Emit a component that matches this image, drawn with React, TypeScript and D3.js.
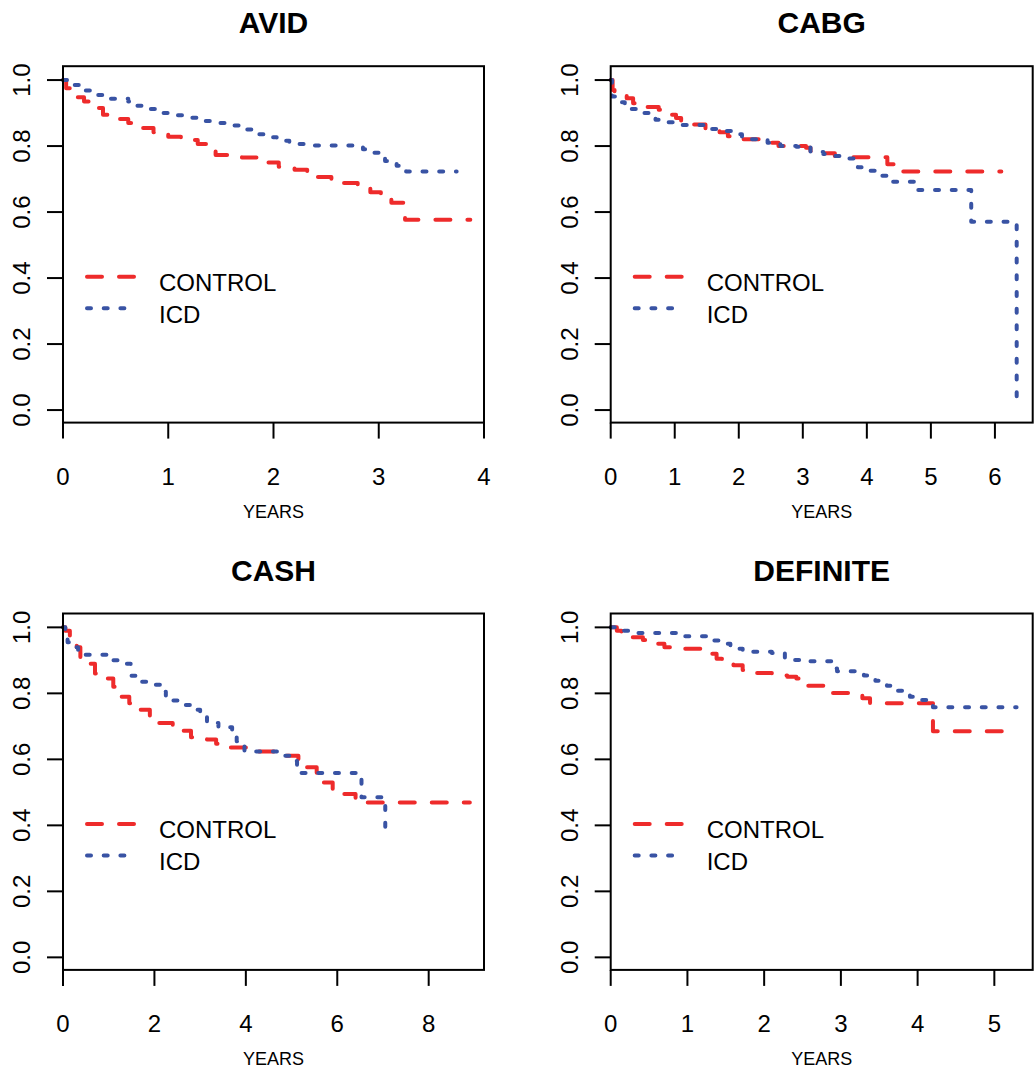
import React from 'react';
import * as d3 from 'd3';

const W = 1034;
const H = 1070;
const RED = '#ee2b2b';
const BLUE = '#3953a4';
const FONT = '"Liberation Sans", Arial, Helvetica, sans-serif';

// Kaplan-Meier steps: time (years) and survival after the step
const avidControlTime = [0, 0.03, 0.09, 0.14, 0.2, 0.28, 0.38, 0.5, 0.62, 0.75, 0.86, 1.0, 1.12, 1.28, 1.38, 1.45, 1.7, 1.93, 2.05, 2.2, 2.32, 2.4, 2.55, 2.65, 2.8, 2.92, 3.02, 3.12, 3.25, 3.87];
const avidControlSurv = [1, 0.975, 0.96, 0.948, 0.935, 0.915, 0.895, 0.882, 0.87, 0.855, 0.842, 0.828, 0.818, 0.806, 0.797, 0.773, 0.765, 0.75, 0.737, 0.728, 0.72, 0.706, 0.695, 0.688, 0.676, 0.66, 0.643, 0.628, 0.577, 0.577];
const avidIcdTime = [0, 0.05, 0.2, 0.3, 0.42, 0.62, 0.68, 0.8, 0.88, 1.0, 1.15, 1.3, 1.45, 1.62, 1.7, 1.8, 1.93, 2.03, 2.15, 2.35, 2.78, 2.85, 2.9, 3.0, 3.06, 3.17, 3.26, 3.74];
const avidIcdSurv = [1, 0.985, 0.968, 0.955, 0.943, 0.935, 0.922, 0.912, 0.9, 0.893, 0.886, 0.876, 0.87, 0.862, 0.85, 0.836, 0.827, 0.816, 0.806, 0.802, 0.797, 0.79, 0.78, 0.77, 0.755, 0.74, 0.723, 0.723];

const cabgControlTime = [0, 0.03, 0.06, 0.25, 0.35, 0.55, 0.75, 0.93, 1.02, 1.1, 1.3, 1.48, 1.7, 1.83, 2.0, 2.5, 2.62, 3.05, 3.12, 3.2, 3.5, 3.7, 4.32, 4.52, 6.1];
const cabgControlSurv = [1, 0.97, 0.955, 0.945, 0.93, 0.918, 0.91, 0.895, 0.885, 0.875, 0.865, 0.852, 0.842, 0.83, 0.821, 0.81, 0.8, 0.795, 0.785, 0.778, 0.77, 0.766, 0.745, 0.723, 0.723];
const cabgIcdTime = [0, 0.02, 0.15, 0.22, 0.3, 0.45, 0.62, 0.7, 0.85, 1.0, 1.45, 1.65, 1.88, 2.05, 2.45, 2.65, 2.9, 3.12, 3.32, 3.5, 3.72, 3.8, 3.86, 4.05, 4.2, 4.35, 4.76, 5.63, 6.34];
const cabgIcdSurv = [1, 0.95, 0.933, 0.925, 0.912, 0.9, 0.888, 0.88, 0.872, 0.864, 0.852, 0.846, 0.836, 0.821, 0.81, 0.8, 0.798, 0.782, 0.776, 0.77, 0.762, 0.75, 0.736, 0.725, 0.71, 0.692, 0.667, 0.571, 0.035];

const cashControlTime = [0, 0.05, 0.15, 0.3, 0.38, 0.55, 0.7, 0.95, 1.1, 1.25, 1.45, 1.7, 1.9, 2.05, 2.4, 2.6, 2.8, 3.15, 3.35, 3.6, 4.2, 4.85, 5.15, 5.28, 5.55, 5.65, 5.9, 6.1, 6.4, 6.6, 8.9];
const cashControlSurv = [1, 0.99, 0.975, 0.94, 0.91, 0.89, 0.86, 0.845, 0.82, 0.79, 0.77, 0.75, 0.732, 0.71, 0.703, 0.687, 0.667, 0.66, 0.647, 0.636, 0.624, 0.611, 0.596, 0.576, 0.556, 0.53, 0.51, 0.495, 0.48, 0.469, 0.469];
const cashIcdTime = [0, 0.05, 0.1, 0.22, 0.33, 1.05, 1.3, 1.48, 1.5, 1.65, 1.85, 2.15, 2.25, 2.55, 2.8, 3.0, 3.15, 3.4, 3.7, 3.8, 3.9, 3.97, 4.85, 5.05, 5.12, 5.2, 6.53, 7.05, 7.2];
const cashIcdSurv = [1, 0.97, 0.955, 0.94, 0.917, 0.9, 0.89, 0.87, 0.853, 0.835, 0.826, 0.805, 0.778, 0.765, 0.75, 0.735, 0.71, 0.697, 0.68, 0.655, 0.64, 0.624, 0.611, 0.595, 0.58, 0.559, 0.485, 0.389, 0.389];

const definiteControlTime = [0, 0.08, 0.14, 0.27, 0.42, 0.55, 0.7, 0.85, 1.28, 1.38, 1.45, 1.6, 1.72, 1.9, 2.1, 2.3, 2.42, 2.5, 2.85, 3.28, 3.38, 4.2, 5.1];
const definiteControlSurv = [1, 0.99, 0.98, 0.97, 0.962, 0.95, 0.94, 0.935, 0.92, 0.905, 0.894, 0.885, 0.871, 0.862, 0.854, 0.85, 0.845, 0.823, 0.801, 0.785, 0.77, 0.685, 0.685];
const definiteIcdTime = [0, 0.12, 0.36, 0.92, 1.25, 1.42, 1.56, 1.72, 2.1, 2.27, 2.6, 2.89, 2.95, 3.3, 3.37, 3.45, 3.52, 3.6, 3.68, 3.73, 3.8, 3.9, 4.0, 4.15, 4.2, 5.29];
const definiteIcdSurv = [1, 0.99, 0.983, 0.973, 0.96, 0.95, 0.935, 0.926, 0.922, 0.901, 0.897, 0.875, 0.867, 0.854, 0.844, 0.838, 0.829, 0.823, 0.814, 0.808, 0.8, 0.79, 0.78, 0.77, 0.758, 0.758];

const yTicks = [0, 0.2, 0.4, 0.6, 0.8, 1.0];
const legendLabels = ['CONTROL', 'ICD'];

const zip = (t: number[], s: number[]) => t.map((v, i) => [v, s[i]] as [number, number]);

const panels = [
  { title: 'AVID', left: 63, top: 66.2, width: 421, xMax: 4, xTicks: [0, 1, 2, 3, 4],
    control: zip(avidControlTime, avidControlSurv), icd: zip(avidIcdTime, avidIcdSurv) },
  { title: 'CABG', left: 610.7, top: 66.2, width: 422, xMax: 6.59, xTicks: [0, 1, 2, 3, 4, 5, 6],
    control: zip(cabgControlTime, cabgControlSurv), icd: zip(cabgIcdTime, cabgIcdSurv) },
  { title: 'CASH', left: 63, top: 613.5, width: 421, xMax: 9.21, xTicks: [0, 2, 4, 6, 8],
    control: zip(cashControlTime, cashControlSurv), icd: zip(cashIcdTime, cashIcdSurv) },
  { title: 'DEFINITE', left: 610.7, top: 613.5, width: 422, xMax: 5.5, xTicks: [0, 1, 2, 3, 4, 5],
    control: zip(definiteControlTime, definiteControlSurv), icd: zip(definiteIcdTime, definiteIcdSurv) },
];

const PH = 356.4;

function Panel({ p }: { p: typeof panels[number] }) {
  const x = d3.scaleLinear().domain([0, p.xMax]).range([p.left, p.left + p.width]);
  const y = d3.scaleLinear().domain([-0.038, 1.042]).range([p.top + PH, p.top]);
  const line = d3.line<[number, number]>()
    .x(d => x(d[0]))
    .y(d => y(d[1]))
    .curve(d3.curveStepAfter);
  const bottom = p.top + PH;
  const styles = [
    { color: RED, dash: '15 17' },
    { color: BLUE, dash: '4 12.7' },
  ];

  return (
    <g>
      <text x={p.left + p.width / 2} y={p.top - 33} textAnchor="middle" fontSize={30} fontWeight="bold">{p.title}</text>

      {[p.control, p.icd].map((d, i) => (
        <path key={i} d={line(d) || ''} fill="none" stroke={styles[i].color} strokeWidth={4}
          strokeDasharray={styles[i].dash} strokeLinecap="round" strokeLinejoin="round" />
      ))}

      <rect x={p.left} y={p.top} width={p.width} height={PH} fill="none" stroke="#000" strokeWidth={2} />

      {p.xTicks.map(t => (
        <g key={t}>
          <line x1={x(t)} x2={x(t)} y1={bottom} y2={bottom + 16} stroke="#000" strokeWidth={2} />
          <text x={x(t)} y={bottom + 62.5} textAnchor="middle" fontSize={24}>{t}</text>
        </g>
      ))}
      <text x={p.left + p.width / 2} y={bottom + 95} textAnchor="middle" fontSize={18}>YEARS</text>

      {yTicks.map(t => (
        <g key={t}>
          <line x1={p.left - 16} x2={p.left} y1={y(t)} y2={y(t)} stroke="#000" strokeWidth={2} />
          <text transform={`translate(${p.left - 33},${y(t)}) rotate(-90)`} textAnchor="middle" fontSize={24}>{t.toFixed(1)}</text>
        </g>
      ))}

      {legendLabels.map((lab, i) => {
        const ly = p.top + 210.5 + i * 31.6;
        return (
          <g key={lab}>
            <line x1={p.left + 24} x2={p.left + 71} y1={ly} y2={ly} stroke={styles[i].color} strokeWidth={4}
              strokeDasharray={styles[i].dash} strokeLinecap="round" />
            <text x={p.left + 96} y={ly + 14.3} fontSize={24}>{lab}</text>
          </g>
        );
      })}
    </g>
  );
}

export default function App() {
  return (
    <div style={{ position: 'absolute', left: 0, top: 0 }}>
      <svg width={W} height={H} style={{ display: 'block', background: '#fff', fontFamily: FONT }}>
        {panels.map(p => <Panel key={p.title} p={p} />)}
      </svg>
    </div>
  );
}
